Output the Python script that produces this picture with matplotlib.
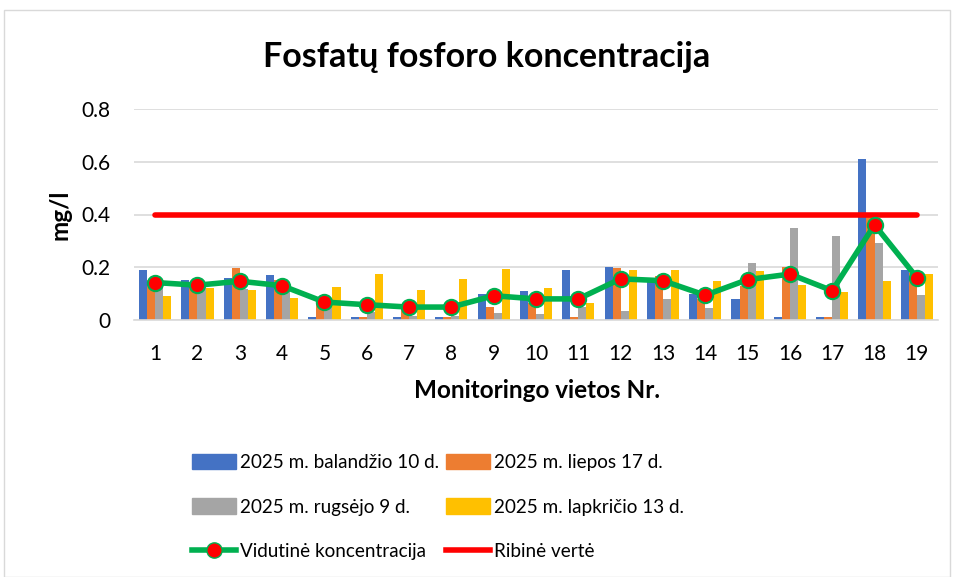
import matplotlib.pyplot as plt
from matplotlib.patches import Patch, Rectangle
from matplotlib.lines import Line2D
import numpy as np

plt.rcParams['font.family'] = ['Lato', 'DejaVu Sans']

sites = [str(i) for i in range(1, 20)]

# koncentracijos, mg/l (nuskaityta nuo grafiko)
balandzio = [0.19, 0.15, 0.16, 0.17, 0.012, 0.012, 0.012, 0.012, 0.10, 0.11,
             0.19, 0.20, 0.16, 0.10, 0.078, 0.012, 0.012, 0.61, 0.19]
liepos = [0.15, 0.13, 0.196, 0.15, 0.075, 0.012, 0.05, 0.012, 0.05, 0.065,
          0.012, 0.198, 0.165, 0.08, 0.13, 0.20, 0.012, 0.39, 0.18]
rugsejo = [0.13, 0.12, 0.117, 0.12, 0.06, 0.032, 0.017, 0.017, 0.026, 0.023,
           0.051, 0.033, 0.08, 0.047, 0.217, 0.349, 0.32, 0.292, 0.094]
lapkricio = [0.09, 0.123, 0.112, 0.082, 0.126, 0.176, 0.112, 0.157, 0.192, 0.123,
             0.064, 0.188, 0.19, 0.146, 0.187, 0.132, 0.107, 0.149, 0.174]
vidutine = [0.142, 0.132, 0.147, 0.13, 0.068, 0.058, 0.049, 0.049, 0.092, 0.08,
            0.08, 0.156, 0.149, 0.094, 0.153, 0.174, 0.111, 0.361, 0.161]
ribine = 0.4

series = [
    ('2025 m. balandžio 10 d.', balandzio, '#4472c4'),
    ('2025 m. liepos 17 d.', liepos, '#ed7d31'),
    ('2025 m. rugsėjo 9 d.', rugsejo, '#a5a5a5'),
    ('2025 m. lapkričio 13 d.', lapkricio, '#ffc000'),
]

fig = plt.figure(figsize=(9.55, 5.77), dpi=100)
fig.patches.append(Rectangle((4 / 955, 0), 946 / 955, 567 / 577, transform=fig.transFigure,
                             fill=False, edgecolor='#d9d9d9', linewidth=1))

ax = fig.add_axes([134 / 955, 1 - 320 / 577, 804 / 955, 211 / 577])
x = np.arange(1, len(sites) + 1)
w = 0.19
for i, (name, vals, col) in enumerate(series):
    ax.bar(x + (i - 1.5) * w, vals, width=w, color=col, zorder=2)

ax.plot([x[0], x[-1]], [ribine, ribine], color='#ff0000', linewidth=4,
        solid_capstyle='round', zorder=3)
ax.plot(x, vidutine, color='#00b050', linewidth=4, marker='o', markersize=11,
        markerfacecolor='#ff0000', markeredgecolor='#00b050', markeredgewidth=1.5, zorder=4)

ax.set_xlim(0.5, len(sites) + 0.5)
ax.set_ylim(0, 0.8)
ax.set_yticks([0, 0.2, 0.4, 0.6, 0.8])
ax.set_yticklabels(['0', '0.2', '0.4', '0.6', '0.8'])
ax.set_xticks(x)
ax.set_xticklabels(sites)
ax.tick_params(axis='both', length=0, labelsize=15, colors='black')
ax.tick_params(axis='x', pad=17)
ax.tick_params(axis='y', pad=17)
ax.grid(axis='y', color='#d9d9d9', linewidth=1.2, zorder=0)
ax.set_axisbelow(True)
for s in ['top', 'right', 'left']:
    ax.spines[s].set_visible(False)
ax.spines['bottom'].set_color('#d9d9d9')
ax.spines['bottom'].set_linewidth(1.2)

fig.text(487 / 955, 1 - 57 / 577, 'Fosfatų fosforo koncentracija', ha='center', va='center',
         fontsize=24.5, fontweight='bold')
fig.text(60 / 955, 1 - 215 / 577, 'mg/l', ha='center', va='center', rotation=90,
         fontsize=17.5, fontweight='bold')
fig.text(537 / 955, 1 - 390 / 577, 'Monitoringo vietos Nr.', ha='center', va='center',
         fontsize=17.5, fontweight='bold')

h = [Patch(color=c) for _, _, c in series]
h_mean = Line2D([], [], color='#00b050', linewidth=4, marker='o', markersize=11,
                markerfacecolor='#ff0000', markeredgecolor='#00b050')
h_lim = Line2D([], [], color='#ff0000', linewidth=4)
handles = [h[0], h[2], h_mean, h[1], h[3], h_lim]
labels = [series[0][0], series[2][0], 'Vidutinė koncentracija',
          series[1][0], series[3][0], 'Ribinė vertė']
fig.legend(handles, labels, ncol=2, loc='center', bbox_to_anchor=(438 / 955, 1 - 507 / 577),
           frameon=False, fontsize=13.6, handlelength=2.3, handleheight=0.9,
           handletextpad=0.2, columnspacing=0.4, labelspacing=1.45)

fig.savefig('out.png', dpi=100)
